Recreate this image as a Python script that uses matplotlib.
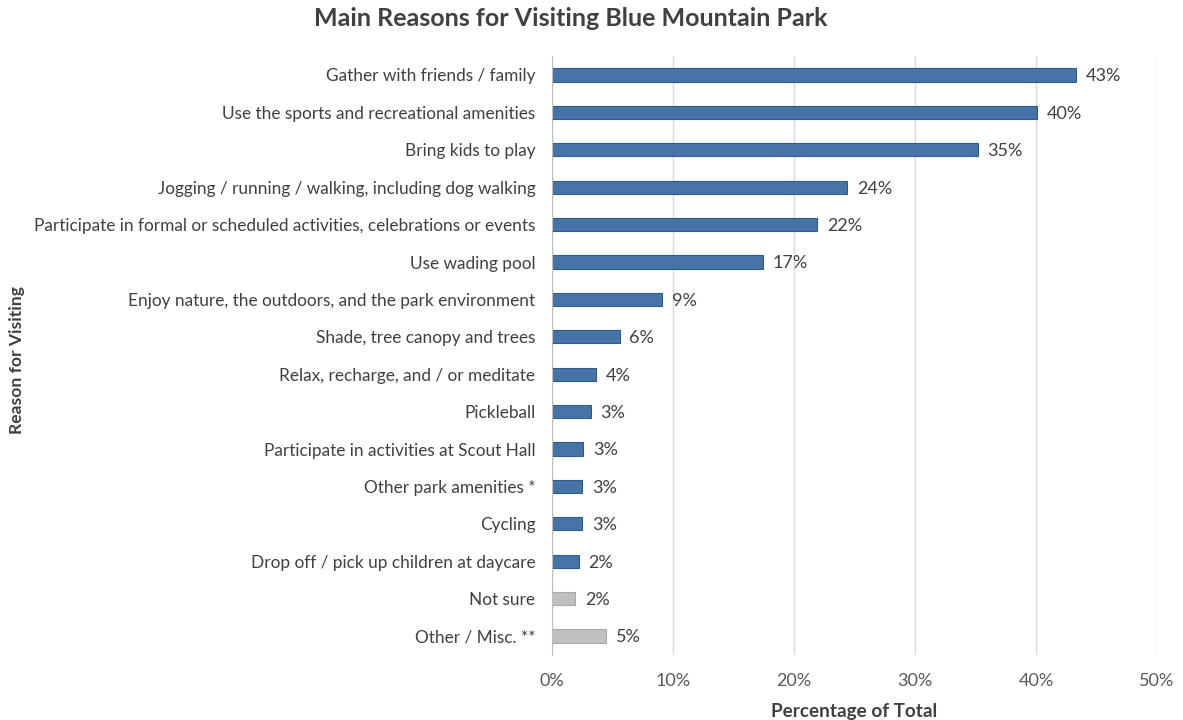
import math
import matplotlib
matplotlib.use("Agg")
import matplotlib.pyplot as plt

plt.rcParams['font.family'] = ['Lato', 'DejaVu Sans']

reasons = [
    "Gather with friends / family",
    "Use the sports and recreational amenities",
    "Bring kids to play",
    "Jogging / running / walking, including dog walking",
    "Participate in formal or scheduled activities, celebrations or events",
    "Use wading pool",
    "Enjoy nature, the outdoors, and the park environment",
    "Shade, tree canopy and trees",
    "Relax, recharge, and / or meditate",
    "Pickleball",
    "Participate in activities at Scout Hall",
    "Other park amenities *",
    "Cycling",
    "Drop off / pick up children at daycare",
    "Not sure",
    "Other / Misc. **",
]
share_pct = [43.3, 40.1, 35.2, 24.4, 21.9, 17.4, 9.1, 5.6, 3.6, 3.2, 2.6, 2.5, 2.5, 2.2, 1.9, 4.5]
is_other = [False] * 14 + [True, True]

xticks = [0, 10, 20, 30, 40, 50]

TEXT = '#404040'
BLUE, BLUE_EDGE = '#4674A6', '#2F5B8C'
GREY, GREY_EDGE = '#C0C0C0', '#A8A8A8'


def pct_label(v):
    # round half up, like the spreadsheet does
    return f"{int(math.floor(v + 0.5))}%"


fig = plt.figure(figsize=(11.83, 7.2), dpi=100)
ax = fig.add_axes([552 / 1183, 1 - 654.7 / 720, (1157 - 552) / 1183, (654.7 - 56.3) / 720])

ypos = list(range(len(reasons)))
colors = [GREY if o else BLUE for o in is_other]
edges = [GREY_EDGE if o else BLUE_EDGE for o in is_other]
ax.barh(ypos, share_pct, height=0.35, color=colors, edgecolor=edges, linewidth=0.8, zorder=3)

for y, v in zip(ypos, share_pct):
    ax.annotate(pct_label(v), (v, y), xytext=(7, -1), textcoords='offset points',
                va='center', ha='left', fontsize=13, color=TEXT)

ax.set_xlim(0, 50)
ax.set_ylim(len(reasons) - 0.5, -0.5)
ax.set_xticks(xticks)
ax.set_xticklabels([f"{t}%" for t in xticks], color='#595959', fontsize=13)
ax.set_yticks(ypos)
ax.set_yticklabels(reasons, color=TEXT, fontsize=12.4)
ax.tick_params(axis='both', length=0)
ax.tick_params(axis='x', pad=13)
ax.tick_params(axis='y', pad=12)

ax.grid(axis='x', color='#D9D9D9', linewidth=1, zorder=0)
for side in ['top', 'right', 'bottom']:
    ax.spines[side].set_visible(False)
ax.spines['left'].set_color('#BFBFBF')
ax.spines['left'].set_zorder(4)

ax.set_xlabel("Percentage of Total", fontsize=13.6, fontweight='bold', color=TEXT, labelpad=10)
fig.text(17 / 1183, 1 - 360 / 720, "Reason for Visiting", rotation=90, ha='center', va='center',
         fontsize=12.6, fontweight='bold', color=TEXT)
fig.text(571 / 1183, 1 - 18 / 720, "Main Reasons for Visiting Blue Mountain Park",
         ha='center', va='center', fontsize=18, fontweight='bold', color=TEXT)

fig.savefig("out.png", dpi=100)
